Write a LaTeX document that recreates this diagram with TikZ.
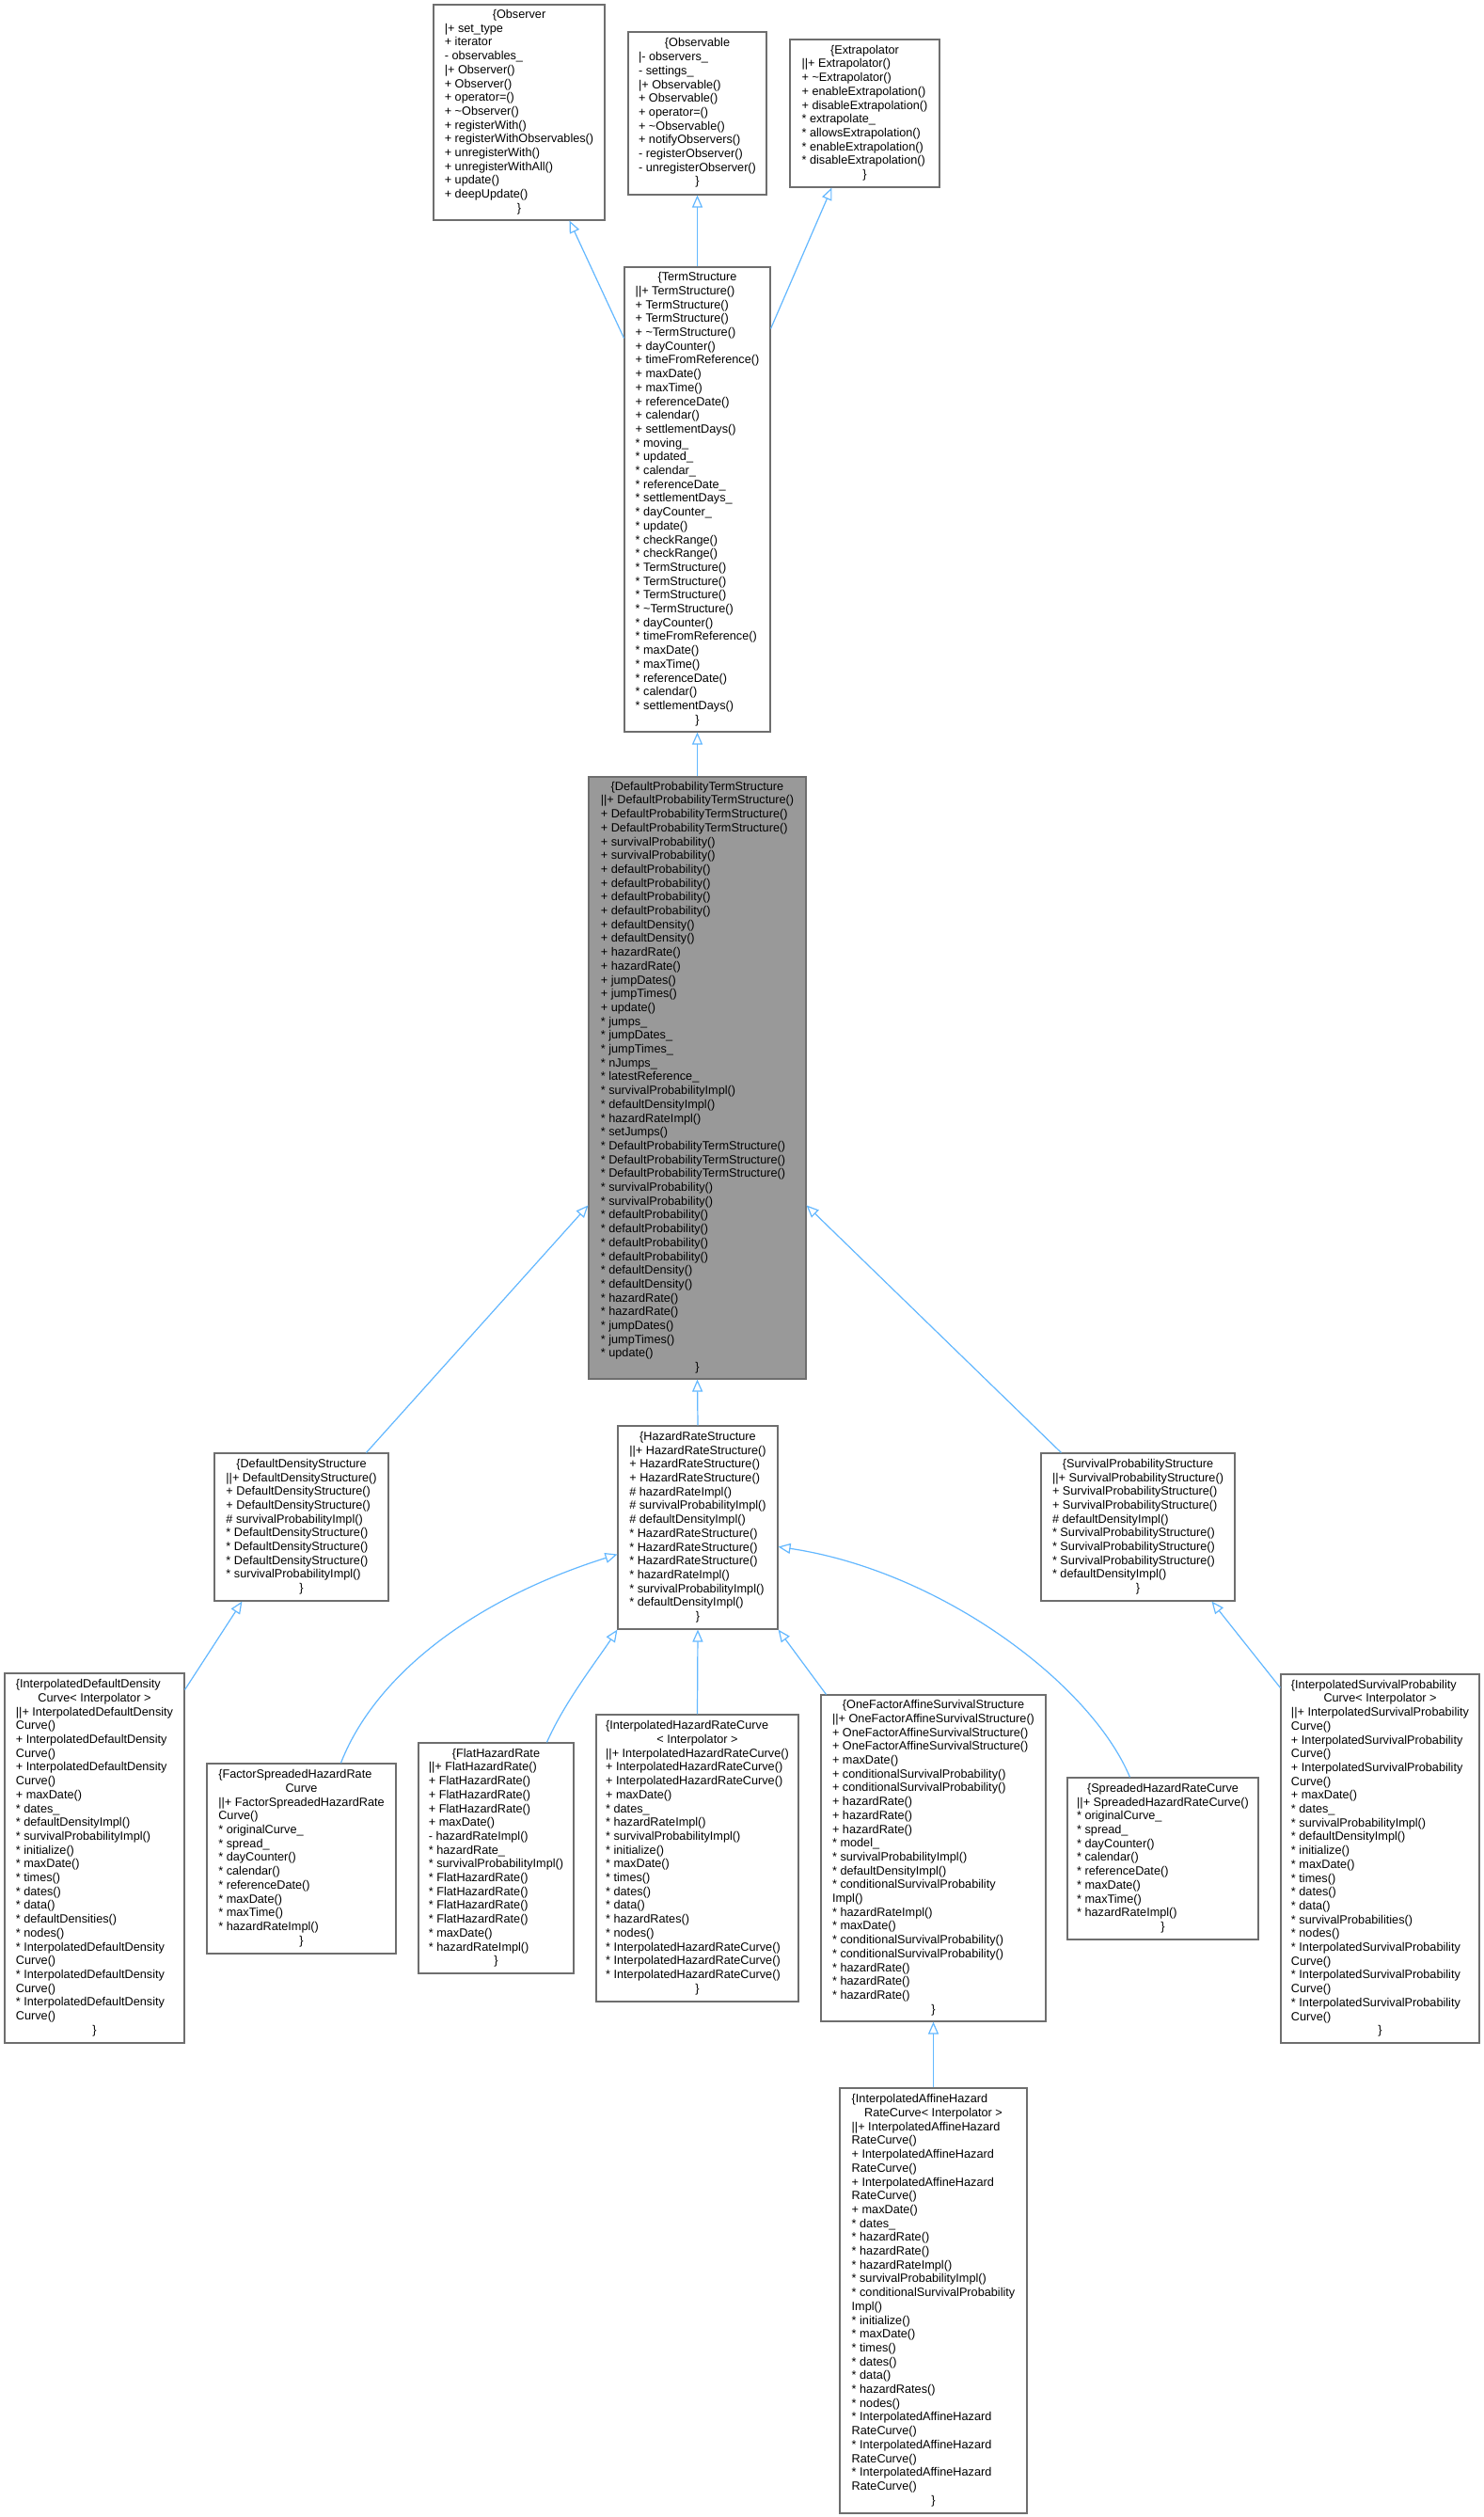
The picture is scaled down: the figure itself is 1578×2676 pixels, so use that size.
\documentclass[tikz,border=0pt]{standalone}
\usepackage{fontspec}
\setmainfont{Liberation Sans}
\usetikzlibrary{arrows.meta}
\definecolor{boxgray}{HTML}{6E6E6E}
\definecolor{focusgray}{HTML}{999999}
\definecolor{edgeblue}{HTML}{63B8FF}
% centred row inside a class box (titles and closing brace)
\newcommand\crow[1]{\multicolumn{1}{@{}c@{}}{#1}}
\newcommand\cbody[1]{\begin{tabular}{@{}l@{}}#1\end{tabular}}
\newcommand\tl{\textasciitilde}
% member marker that \\ does not swallow
\newcommand\sx{{*}}
\tikzset{
  cls/.style={draw=boxgray, line width=1.1pt, fill=white, inner sep=0pt,
    font=\fontsize{12.7}{14.7}\selectfont},
  focus/.style={cls, fill=focusgray},
  inh/.style={draw=edgeblue, line width=1.2pt,
    -{Triangle[open, length=13pt, width=11pt]}},
}
\begin{document}
\begin{tikzpicture}[x=1pt, y=-1pt]
\path[use as bounding box, fill=white] (0,0) rectangle (1578,2676);

% ---- base classes
\node[cls, minimum width=182pt, minimum height=229pt] (observer) at (552,119.5) {\cbody{
\crow{\{Observer}\\
|+ set\_type\\
+ iterator\\
- observables\_\\
|+ Observer()\\
+ Observer()\\
+ operator=()\\
+ \tl Observer()\\
+ registerWith()\\
+ registerWithObservables()\\
+ unregisterWith()\\
+ unregisterWithAll()\\
+ update()\\
+ deepUpdate()\\
\crow{\}}}};

\node[cls, minimum width=147pt, minimum height=173pt] (observable) at (741.5,120.5) {\cbody{
\crow{\{Observable}\\
|- observers\_\\
- settings\_\\
|+ Observable()\\
+ Observable()\\
+ operator=()\\
+ \tl Observable()\\
+ notifyObservers()\\
- registerObserver()\\
- unregisterObserver()\\
\crow{\}}}};

\node[cls, minimum width=159pt, minimum height=157pt] (extrap) at (919.5,120.5) {\cbody{
\crow{\{Extrapolator}\\
||+ Extrapolator()\\
+ \tl Extrapolator()\\
+ enableExtrapolation()\\
+ disableExtrapolation()\\
\sx{} extrapolate\_\\
\sx{} allowsExtrapolation()\\
\sx{} enableExtrapolation()\\
\sx{} disableExtrapolation()\\
\crow{\}}}};

\node[cls, minimum width=155pt, minimum height=494pt] (ts) at (741.5,531) {\cbody{
\crow{\{TermStructure}\\
||+ TermStructure()\\
+ TermStructure()\\
+ TermStructure()\\
+ \tl TermStructure()\\
+ dayCounter()\\
+ timeFromReference()\\
+ maxDate()\\
+ maxTime()\\
+ referenceDate()\\
+ calendar()\\
+ settlementDays()\\
\sx{} moving\_\\
\sx{} updated\_\\
\sx{} calendar\_\\
\sx{} referenceDate\_\\
\sx{} settlementDays\_\\
\sx{} dayCounter\_\\
\sx{} update()\\
\sx{} checkRange()\\
\sx{} checkRange()\\
\sx{} TermStructure()\\
\sx{} TermStructure()\\
\sx{} TermStructure()\\
\sx{} \tl TermStructure()\\
\sx{} dayCounter()\\
\sx{} timeFromReference()\\
\sx{} maxDate()\\
\sx{} maxTime()\\
\sx{} referenceDate()\\
\sx{} calendar()\\
\sx{} settlementDays()\\
\crow{\}}}};

\node[focus, minimum width=231pt, minimum height=640pt] (dpts) at (741.5,1146) {\cbody{
\crow{\{DefaultProbabilityTermStructure}\\
||+ DefaultProbabilityTermStructure()\\
+ DefaultProbabilityTermStructure()\\
+ DefaultProbabilityTermStructure()\\
+ survivalProbability()\\
+ survivalProbability()\\
+ defaultProbability()\\
+ defaultProbability()\\
+ defaultProbability()\\
+ defaultProbability()\\
+ defaultDensity()\\
+ defaultDensity()\\
+ hazardRate()\\
+ hazardRate()\\
+ jumpDates()\\
+ jumpTimes()\\
+ update()\\
\sx{} jumps\_\\
\sx{} jumpDates\_\\
\sx{} jumpTimes\_\\
\sx{} nJumps\_\\
\sx{} latestReference\_\\
\sx{} survivalProbabilityImpl()\\
\sx{} defaultDensityImpl()\\
\sx{} hazardRateImpl()\\
\sx{} setJumps()\\
\sx{} DefaultProbabilityTermStructure()\\
\sx{} DefaultProbabilityTermStructure()\\
\sx{} DefaultProbabilityTermStructure()\\
\sx{} survivalProbability()\\
\sx{} survivalProbability()\\
\sx{} defaultProbability()\\
\sx{} defaultProbability()\\
\sx{} defaultProbability()\\
\sx{} defaultProbability()\\
\sx{} defaultDensity()\\
\sx{} defaultDensity()\\
\sx{} hazardRate()\\
\sx{} hazardRate()\\
\sx{} jumpDates()\\
\sx{} jumpTimes()\\
\sx{} update()\\
\crow{\}}}};

% ---- intermediate structures
\node[cls, minimum width=185pt, minimum height=157pt] (dds) at (320.5,1623.5) {\cbody{
\crow{\{DefaultDensityStructure}\\
||+ DefaultDensityStructure()\\
+ DefaultDensityStructure()\\
+ DefaultDensityStructure()\\
\# survivalProbabilityImpl()\\
\sx{} DefaultDensityStructure()\\
\sx{} DefaultDensityStructure()\\
\sx{} DefaultDensityStructure()\\
\sx{} survivalProbabilityImpl()\\
\crow{\}}}};

\node[cls, minimum width=170pt, minimum height=216pt] (hrs) at (742,1624) {\cbody{
\crow{\{HazardRateStructure}\\
||+ HazardRateStructure()\\
+ HazardRateStructure()\\
+ HazardRateStructure()\\
\# hazardRateImpl()\\
\# survivalProbabilityImpl()\\
\# defaultDensityImpl()\\
\sx{} HazardRateStructure()\\
\sx{} HazardRateStructure()\\
\sx{} HazardRateStructure()\\
\sx{} hazardRateImpl()\\
\sx{} survivalProbabilityImpl()\\
\sx{} defaultDensityImpl()\\
\crow{\}}}};

\node[cls, minimum width=206pt, minimum height=157pt] (sps) at (1210,1623.5) {\cbody{
\crow{\{SurvivalProbabilityStructure}\\
||+ SurvivalProbabilityStructure()\\
+ SurvivalProbabilityStructure()\\
+ SurvivalProbabilityStructure()\\
\# defaultDensityImpl()\\
\sx{} SurvivalProbabilityStructure()\\
\sx{} SurvivalProbabilityStructure()\\
\sx{} SurvivalProbabilityStructure()\\
\sx{} defaultDensityImpl()\\
\crow{\}}}};

% ---- concrete curves
\node[cls, minimum width=191pt, minimum height=393pt] (iddc) at (100.5,1975.5) {\cbody{
\{InterpolatedDefaultDensity\\
\crow{Curve< Interpolator >}\\
||+ InterpolatedDefaultDensity\\
Curve()\\
+ InterpolatedDefaultDensity\\
Curve()\\
+ InterpolatedDefaultDensity\\
Curve()\\
+ maxDate()\\
\sx{} dates\_\\
\sx{} defaultDensityImpl()\\
\sx{} survivalProbabilityImpl()\\
\sx{} initialize()\\
\sx{} maxDate()\\
\sx{} times()\\
\sx{} dates()\\
\sx{} data()\\
\sx{} defaultDensities()\\
\sx{} nodes()\\
\sx{} InterpolatedDefaultDensity\\
Curve()\\
\sx{} InterpolatedDefaultDensity\\
Curve()\\
\sx{} InterpolatedDefaultDensity\\
Curve()\\
\crow{\}}}};

\node[cls, minimum width=201pt, minimum height=202pt] (fshrc) at (320.5,1976) {\cbody{
\{FactorSpreadedHazardRate\\
\crow{Curve}\\
||+ FactorSpreadedHazardRate\\
Curve()\\
\sx{} originalCurve\_\\
\sx{} spread\_\\
\sx{} dayCounter()\\
\sx{} calendar()\\
\sx{} referenceDate()\\
\sx{} maxDate()\\
\sx{} maxTime()\\
\sx{} hazardRateImpl()\\
\crow{\}}}};

\node[cls, minimum width=165pt, minimum height=245pt] (fhr) at (527.5,1975.5) {\cbody{
\crow{\{FlatHazardRate}\\
||+ FlatHazardRate()\\
+ FlatHazardRate()\\
+ FlatHazardRate()\\
+ FlatHazardRate()\\
+ maxDate()\\
- hazardRateImpl()\\
\sx{} hazardRate\_\\
\sx{} survivalProbabilityImpl()\\
\sx{} FlatHazardRate()\\
\sx{} FlatHazardRate()\\
\sx{} FlatHazardRate()\\
\sx{} FlatHazardRate()\\
\sx{} maxDate()\\
\sx{} hazardRateImpl()\\
\crow{\}}}};

\node[cls, minimum width=215pt, minimum height=305pt] (ihrc) at (741.5,1975.5) {\cbody{
\{InterpolatedHazardRateCurve\\
\crow{< Interpolator >}\\
||+ InterpolatedHazardRateCurve()\\
+ InterpolatedHazardRateCurve()\\
+ InterpolatedHazardRateCurve()\\
+ maxDate()\\
\sx{} dates\_\\
\sx{} hazardRateImpl()\\
\sx{} survivalProbabilityImpl()\\
\sx{} initialize()\\
\sx{} maxDate()\\
\sx{} times()\\
\sx{} dates()\\
\sx{} data()\\
\sx{} hazardRates()\\
\sx{} nodes()\\
\sx{} InterpolatedHazardRateCurve()\\
\sx{} InterpolatedHazardRateCurve()\\
\sx{} InterpolatedHazardRateCurve()\\
\crow{\}}}};

\node[cls, minimum width=239pt, minimum height=347pt] (ofass) at (992.5,1975.5) {\cbody{
\crow{\{OneFactorAffineSurvivalStructure}\\
||+ OneFactorAffineSurvivalStructure()\\
+ OneFactorAffineSurvivalStructure()\\
+ OneFactorAffineSurvivalStructure()\\
+ maxDate()\\
+ conditionalSurvivalProbability()\\
+ conditionalSurvivalProbability()\\
+ hazardRate()\\
+ hazardRate()\\
+ hazardRate()\\
\sx{} model\_\\
\sx{} survivalProbabilityImpl()\\
\sx{} defaultDensityImpl()\\
\sx{} conditionalSurvivalProbability\\
Impl()\\
\sx{} hazardRateImpl()\\
\sx{} maxDate()\\
\sx{} conditionalSurvivalProbability()\\
\sx{} conditionalSurvivalProbability()\\
\sx{} hazardRate()\\
\sx{} hazardRate()\\
\sx{} hazardRate()\\
\crow{\}}}};

\node[cls, minimum width=203pt, minimum height=172pt] (shrc) at (1236.5,1976) {\cbody{
\crow{\{SpreadedHazardRateCurve}\\
||+ SpreadedHazardRateCurve()\\
\sx{} originalCurve\_\\
\sx{} spread\_\\
\sx{} dayCounter()\\
\sx{} calendar()\\
\sx{} referenceDate()\\
\sx{} maxDate()\\
\sx{} maxTime()\\
\sx{} hazardRateImpl()\\
\crow{\}}}};

\node[cls, minimum width=211pt, minimum height=392pt] (ispc) at (1467.5,1976) {\cbody{
\{InterpolatedSurvivalProbability\\
\crow{Curve< Interpolator >}\\
||+ InterpolatedSurvivalProbability\\
Curve()\\
+ InterpolatedSurvivalProbability\\
Curve()\\
+ InterpolatedSurvivalProbability\\
Curve()\\
+ maxDate()\\
\sx{} dates\_\\
\sx{} survivalProbabilityImpl()\\
\sx{} defaultDensityImpl()\\
\sx{} initialize()\\
\sx{} maxDate()\\
\sx{} times()\\
\sx{} dates()\\
\sx{} data()\\
\sx{} survivalProbabilities()\\
\sx{} nodes()\\
\sx{} InterpolatedSurvivalProbability\\
Curve()\\
\sx{} InterpolatedSurvivalProbability\\
Curve()\\
\sx{} InterpolatedSurvivalProbability\\
Curve()\\
\crow{\}}}};

\node[cls, minimum width=199pt, minimum height=452pt] (iahrc) at (992.5,2446) {\cbody{
\{InterpolatedAffineHazard\\
\crow{RateCurve< Interpolator >}\\
||+ InterpolatedAffineHazard\\
RateCurve()\\
+ InterpolatedAffineHazard\\
RateCurve()\\
+ InterpolatedAffineHazard\\
RateCurve()\\
+ maxDate()\\
\sx{} dates\_\\
\sx{} hazardRate()\\
\sx{} hazardRate()\\
\sx{} hazardRateImpl()\\
\sx{} survivalProbabilityImpl()\\
\sx{} conditionalSurvivalProbability\\
Impl()\\
\sx{} initialize()\\
\sx{} maxDate()\\
\sx{} times()\\
\sx{} dates()\\
\sx{} data()\\
\sx{} hazardRates()\\
\sx{} nodes()\\
\sx{} InterpolatedAffineHazard\\
RateCurve()\\
\sx{} InterpolatedAffineHazard\\
RateCurve()\\
\sx{} InterpolatedAffineHazard\\
RateCurve()\\
\crow{\}}}};

% ---- inheritance arrows (child -> parent)
\draw[inh] ([yshift=-76pt]ts.north west) -- ([xshift=145pt]observer.south west);
\draw[inh] (ts.north) -- (observable.south);
\draw[inh] ([yshift=-66pt]ts.north east) -- ([xshift=45pt]extrap.south west);
\draw[inh] (dpts.north) -- (ts.south);
\draw[inh] ([xshift=162pt]dds.north west) -- ([yshift=-456pt]dpts.north west);
\draw[inh] (hrs.north) -- (dpts.south);
\draw[inh] ([xshift=22pt]sps.north west) -- ([yshift=-456pt]dpts.north east);
\draw[inh] ([yshift=-18pt]iddc.north east) -- ([xshift=30pt]dds.south west);
\draw[inh] ([xshift=143pt]fshrc.north west) .. controls (395,1790) and (490,1705) .. ([yshift=-137pt]hrs.north west);
\draw[inh] ([xshift=137pt]fhr.north west) .. controls (600,1810) and (635,1765) .. (hrs.south west);
\draw[inh] (ihrc.north) -- (hrs.south);
\draw[inh] ([xshift=6pt]ofass.north west) -- (hrs.south east);
\draw[inh] ([xshift=67pt]shrc.north west) .. controls (1160,1790) and (1000,1670) .. ([yshift=-129pt]hrs.north east);
\draw[inh] ([yshift=-15pt]ispc.north west) -- ([xshift=182pt]sps.south west);
\draw[inh] (iahrc.north) -- (ofass.south);
\end{tikzpicture}
\end{document}
